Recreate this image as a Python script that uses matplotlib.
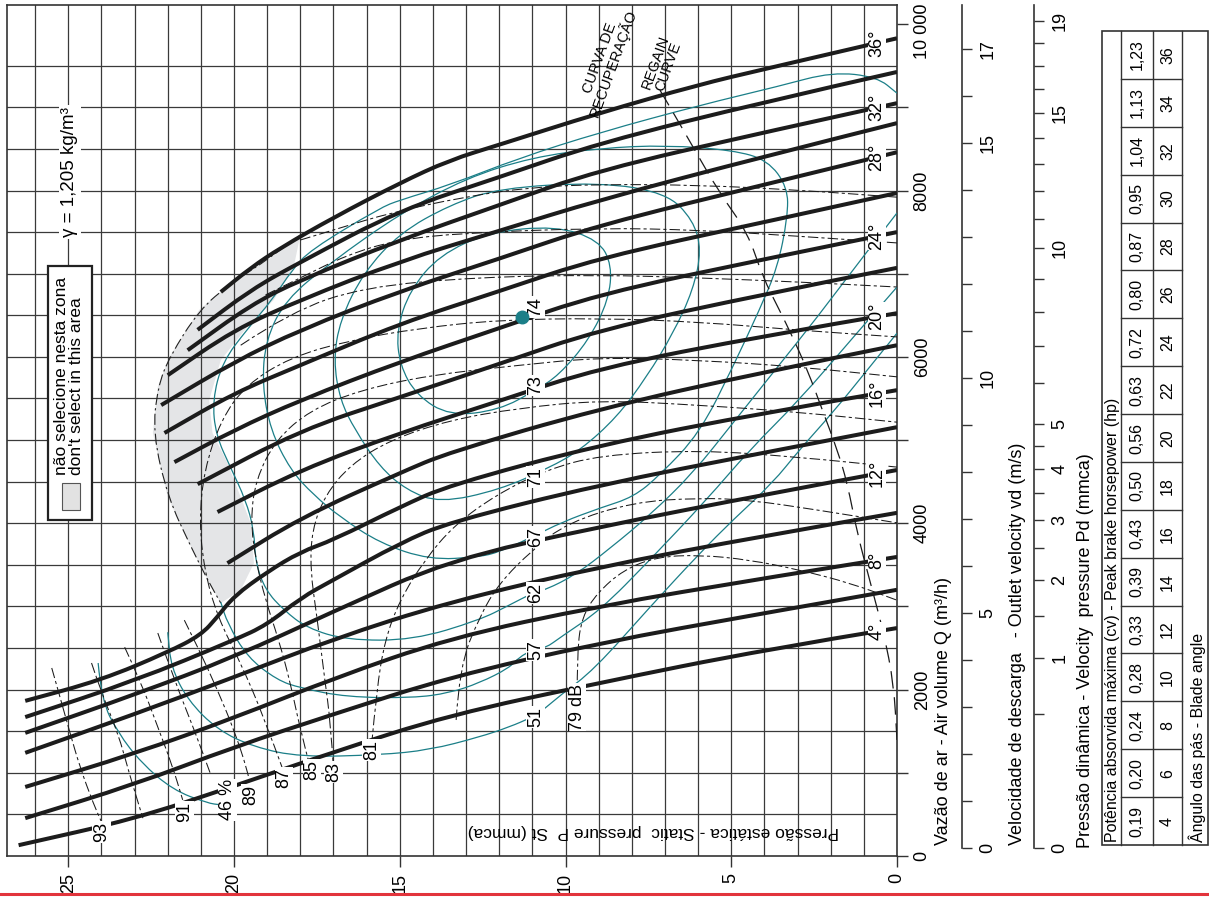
import matplotlib
matplotlib.use("Agg")
import matplotlib.pyplot as plt
from matplotlib.patches import Rectangle, PathPatch
from matplotlib.path import Path
from matplotlib.transforms import ScaledTranslation
import numpy as np

plt.rcParams['font.family'] = ['Liberation Sans', 'DejaVu Sans']

# ---------------- data (static pressure mmca, air volume m3/h) ----------------
blade_angles = [4, 6, 8, 10, 12, 14, 16, 18, 20, 22, 24, 26, 28, 30, 32, 34, 36]
peak_hp = [0.19, 0.20, 0.24, 0.28, 0.33, 0.39, 0.43, 0.50, 0.56,
           0.63, 0.72, 0.80, 0.87, 0.95, 1.04, 1.13, 1.23]
labelled_angles = [4, 8, 12, 16, 20, 24, 28, 32, 36]

p_low = [0, 4, 9, 13.5, 17, 20, 23, 26.3]
p04 = [0, 4, 9, 13.5, 17, 20, 23, 26.5]
q04 = [2740, 2480, 2080, 1695, 1250, 840, 445, 130]
q06 = [3200, 2920, 2560, 2150, 1705, 1310, 860, 455]
q08 = [3595, 3340, 3005, 2620, 2135, 1660, 1230, 830]
q10 = [4125, 3850, 3475, 3055, 2610, 2150, 1705, 1240]
q12 = [4640, 4345, 3955, 3560, 2940, 2390, 1940, 1480]
p14 = [0, 4, 9, 13.5, 15, 17, 18, 19, 20, 23, 26.3]
q14 = [5155, 4850, 4460, 4015, 3760, 3320, 3100, 2780, 2595, 2105, 1670]
p16 = [0, 4, 9, 13.5, 15, 17, 18, 19, 20, 20.5, 21, 22, 24, 26.3]
q16 = [5600, 5330, 4940, 4460, 4195, 3800, 3655, 3415, 3125, 2875, 2655, 2450, 2115, 1865]
p18 = [0, 4, 9, 13.5, 15, 18, 20.2]
q18 = [6140, 5820, 5375, 4855, 4605, 4065, 3520]
p20 = [0, 4, 9, 12, 15, 18, 20.5]
q20 = [6525, 6255, 5865, 5470, 5085, 4640, 4135]
p22 = [0, 4, 9, 12, 15, 18, 21.1]
q22 = [7070, 6755, 6325, 5915, 5515, 5120, 4470]
p24 = [0, 4, 9, 12, 15, 18, 20, 21.8]
q24 = [7500, 7175, 6755, 6345, 5940, 5480, 5120, 4735]
p26 = [0, 4, 9, 12, 15, 18, 20, 22.1]
q26 = [7970, 7620, 7190, 6790, 6400, 5900, 5565, 5085]
p28 = [0, 4, 9, 12, 15, 18, 20, 22.2]
q28 = [8460, 8070, 7585, 7180, 6790, 6325, 5940, 5420]
p30 = [0, 4, 9, 12, 15, 18, 20, 22.0]
q30 = [8810, 8410, 7885, 7515, 7150, 6685, 6325, 5780]
p32 = [0, 4, 9, 12, 15, 18, 19.5, 21.4]
q32 = [9050, 8700, 8245, 7825, 7405, 6925, 6625, 6080]
p34 = [0, 4, 9, 12, 15, 18, 19.5, 21.1]
q34 = [9425, 9065, 8570, 8160, 7765, 7140, 6805, 6325]
p36 = [0, 4, 6, 9, 12, 13.5, 15, 17, 18.6, 19.5, 20.4]
q36 = [9830, 9460, 9270, 8930, 8550, 8365, 8090, 7675, 7310, 7070, 6780]

# efficiency contours (%)
e73_p = [15.1, 14.7, 13.8, 12.3, 10.3, 9.0, 8.6, 8.7, 9.3, 10.2, 10.9, 12.0, 13.5, 14.5, 15.0, 15.1]
e73_q = [6320, 6800, 7225, 7500, 7575, 7405, 7105, 6685, 6200, 5780, 5600, 5360, 5290, 5540, 5900, 6320]
e71_p = [10.5, 12.0, 13.8, 14.8, 15.6, 16.35, 16.8, 17.0, 16.8, 16.1, 15.0, 13.5, 12.0, 8.95,
         6.95, 6.15, 5.9, 6.15, 6.75, 7.55, 8.45, 9.55, 10.5]
e71_q = [4665, 4400, 4245, 4400, 4675, 5120, 5480, 5960, 6445, 7010, 7490, 7825, 8030, 8100,
         7970, 7645, 7285, 6805, 6285, 5760, 5275, 4880, 4665]
e67_p = [11.0, 12.0, 12.6, 14.1, 15.6, 16.8, 17.6, 18.3, 18.9, 19.15, 19.05, 18.45, 17.1, 15.0,
         13.0, 11.0, 8.95, 6.95, 4.95, 3.9, 3.3, 3.3, 3.6, 4.15, 4.95, 5.95, 7.15, 7.95, 8.95, 10.1, 11.0]
e67_q = [3835, 3655, 3595, 3560, 3760, 4075, 4340, 4640, 5120, 5660, 6200, 6685, 7130, 7720,
         8150, 8400, 8510, 8545, 8485, 8365, 8040, 7680, 7080, 6565, 5880, 5085, 4580, 4315, 4185, 4015, 3835]
e62_p = [0, 1.1, 2.4, 3.6, 4.95, 6.15, 7.45, 8.65, 9.7, 10.6, 11.0, 11.7, 12.6, 14.6, 16.6, 17.8,
         18.5, 19.05, 19.35, 19.4, 19.65, 20.1, 20.55, 20.65, 20.35, 19.6, 18.85, 18.25, 17.7,
         15.6, 15.0, 13.5, 11.4, 8.95, 5.95, 3.55, 1.95, 0.6, 0]
e62_q = [7730, 7165, 6480, 5880, 5205, 4605, 4100, 3700, 3380, 3200, 3160, 3015, 2835, 2595, 2595, 2740,
         2955, 3195, 3520, 3920, 4280, 4665, 5060, 5480, 5940, 6335, 6685, 7045, 7285,
         7790, 7885, 8065, 8390, 8700, 9025, 9255, 9425, 9365, 9170]
e57_p = [0, 1.4, 2.95, 4.45, 5.75, 7.45, 8.95, 10.15, 10.6, 11.0, 11.4, 11.7, 12.6, 13.5, 14.6,
         16.6, 18.0, 18.7, 19.6, 20.2, 20.4]
e57_q = [6840, 6200, 5480, 4880, 4280, 3560, 2955, 2630, 2500, 2475, 2390, 2260, 2080, 1960, 1900,
         1910, 2020, 2115, 2390, 2800, 3050]
e51_p = [0, 0.9, 1.95, 2.95, 3.75, 4.95, 5.95, 7.45, 9.15, 10.15, 10.6, 11.0, 11.7, 12.6, 14.1,
         15.6, 18.0, 19.4, 20.5, 21.4, 21.9, 22.0]
e51_q = [6285, 5840, 5325, 4880, 4485, 4040, 3640, 2995, 2235, 1935, 1780, 1670, 1550, 1430, 1275,
         1215, 1190, 1310, 1515, 1875, 2270, 2690]
e46_p = [24.1, 24.0, 23.5, 22.8, 21.85, 20.8, 20.4]
e46_q = [2320, 1875, 1480, 1120, 795, 635, 615]
eff_labels = ['74', '73', '71', '67', '62', '57', '51']
eff_label_q = [6600, 5660, 4555, 3835, 3160, 2475, 1670]
peak_point = (11.3, 6480)

# noise contours (dB)
n79_p = [9.65, 9.65, 9.5, 9.05, 8.25, 7.25, 5.95, 4.45, 2.95, 1.4, 0]
n79_q = [1875, 2475, 2875, 3160, 3440, 3595, 3620, 3560, 3440, 3280, 3075]
n80_p = [13.3, 13.2, 12.6, 12.0, 11.0, 9.95, 7.95, 5.95, 4.45, 2.4, 0]
n80_q = [1635, 2270, 2875, 3280, 3680, 4005, 4255, 4305, 4280, 4160, 4005]
n81_p = [15.85, 15.7, 15.45, 15.0, 14.25, 13.35, 12.1, 10.6, 8.95, 5.95, 2.95, 0]
n81_q = [1335, 1995, 2595, 3075, 3560, 3980, 4340, 4640, 4820, 4880, 4795, 4675]
n83_p = [17.0, 17.1, 17.25, 17.5, 17.7, 17.65, 17.25, 16.5, 15.3, 13.5, 11.4, 8.95, 5.95, 2.95, 0]
n83_q = [1060, 1635, 2080, 2875, 3440, 3920, 4340, 4700, 5000, 5240, 5385, 5480, 5420, 5335, 5215]
n85_p = [17.7, 18.0, 18.3, 18.65, 19.05, 19.35, 19.5, 19.35, 18.75, 17.7, 16.2, 14.1, 11.4, 8.95, 5.95, 2.95, 0]
n85_q = [1060, 1515, 2080, 2595, 3075, 3560, 4040, 4520, 5000, 5360, 5600, 5780, 5900, 5995, 5960, 5880, 5760]
n87_p = [18.5, 19.1, 19.8, 20.5, 20.9, 21.05, 20.9, 20.4, 19.65, 18.3, 16.5, 14.4, 12.0, 8.95, 5.95, 2.95, 0]
n87_q = [1010, 1670, 2320, 2875, 3440, 4040, 4640, 5240, 5660, 5995, 6200, 6345, 6445, 6465, 6420, 6320, 6240]
n89a_p = [21.5, 21.05, 20.5, 20.0, 19.6, 19.5]
n89a_q = [2835, 2475, 1995, 1515, 1035, 815]
n89b_p = [19.8, 18.3, 16.1, 12.6, 8.95, 5.95, 2.95, 0]
n89b_q = [6140, 6540, 6840, 6960, 6985, 6950, 6900, 6840]
n90_p = [22.3, 21.8, 21.2, 20.7]
n90_q = [2680, 2115, 1515, 975]
n91a_p = [23.3, 22.8, 22.3, 21.85, 21.55]
n91a_q = [2510, 2080, 1550, 1070, 675]
n91b_p = [19.05, 18.0, 16.6, 15.1, 13.1, 8.95, 5.95, 2.95, 0]
n91b_q = [6745, 6950, 7225, 7405, 7490, 7550, 7525, 7450, 7370]
n92_p = [24.3, 24.0, 23.5, 23.15, 22.75]
n92_q = [2320, 1960, 1480, 975, 455]
n93a_p = [25.5, 25.25, 24.95, 24.65, 24.25, 24.0]
n93a_q = [2260, 1910, 1480, 1070, 635, 410]
n93b_p = [18.0, 16.8, 15.3, 13.1, 11.05, 8.95, 5.95, 2.95, 0]
n93b_q = [7405, 7550, 7730, 7920, 8040, 8075, 8065, 8005, 7920]
noise_labels = ['79 dB', '81', '83', '85', '87', '89', '91', '93', '46 %']
noise_label_p = [9.65, 15.85, 17.0, 17.65, 18.5, 19.5, 21.5, 24.0, 20.2]
noise_label_q = [1790, 1275, 1010, 1035, 940, 735, 530, 290, 675]

# regain curve
regain_p = [7.15, 6.85, 6.15, 5.35, 4.5, 4.05, 3.55, 3.15, 2.7, 2.25, 1.8, 1.5, 1.2, 0.8, 0.4, 0.1, 0]
regain_q = [9205, 9005, 8520, 7970, 7490, 6960, 6565, 6240, 5840, 5360, 4880, 4485, 3880, 3280, 2680, 2080, 1395]

# "do not select" zone (outer edge = stall line, then inner edge)
stall_p = [18.0, 18.9, 20.1, 21.05, 21.95, 22.3, 22.45, 22.0, 21.3, 20.8, 20.4]
stall_q = [7465, 7190, 6885, 6565, 6000, 5640, 5085, 4315, 3715, 3320, 3040]
zone_inner_p = [19.8, 19.4, 19.5, 19.8, 20.2, 20.65, 20.75, 20.4, 19.6, 18.8, 18.2]
zone_inner_q = [3195, 3520, 4005, 4315, 4725, 5085, 5480, 5960, 6360, 6685, 7080]

rho = 1.205
vel_ticks = list(range(0, 18))
vel_labelled = [0, 5, 10, 15, 17]
pd_ticks = [0, 0.5, 1, 1.5, 2, 2.5, 3, 3.5, 4, 4.5, 5] + list(range(6, 20))
pd_labelled = [0, 1, 2, 3, 4, 5, 10, 15, 19]

# ---------------- figure ----------------
W, H = 1209, 898
fig = plt.figure(figsize=(W / 100, H / 100), dpi=100)
TEAL = '#1b7f88'
GRID = '#3a3a3a'


def fx(px):
    return px / W


def fy(py):
    return 1 - py / H


def smooth(axis, p, q, closed=False, **kw):
    """draw a smooth (quadratic bezier) line through the read points"""
    pts = np.column_stack([p, q]).astype(float)
    if closed:
        pts = pts[:-1]
        mids = (pts + np.roll(pts, -1, axis=0)) / 2
        verts, codes = [mids[-1]], [Path.MOVETO]
        for i in range(len(pts)):
            verts += [pts[i], mids[i]]
            codes += [Path.CURVE3, Path.CURVE3]
    else:
        verts, codes = [pts[0]], [Path.MOVETO]
        for i in range(1, len(pts) - 1):
            verts += [pts[i], (pts[i] + pts[i + 1]) / 2]
            codes += [Path.CURVE3, Path.CURVE3]
        verts.append(pts[-1])
        codes.append(Path.LINETO)
    axis.add_patch(PathPatch(Path(verts, codes), fill=False, **kw))


ax = fig.add_axes([fx(7), fy(856), fx(897) - fx(7), fy(5) - fy(856)])
ax.set_xlim(26.85, 0)
ax.set_ylim(0, 10230)
for s in ax.spines.values():
    s.set_linewidth(1.2)
    s.set_color('#333333')

# grid
for p in range(1, 27):
    ax.axvline(p, color=GRID, lw=0.9, zorder=1)
for q in range(500, 10000, 500):
    ax.axhline(q, color=GRID, lw=0.9, zorder=1)

# stall zone
ax.fill(stall_p + zone_inner_p, stall_q + zone_inner_q, color='#e4e5e7', lw=0, zorder=0.5)
smooth(ax, stall_p, stall_q, ec='#222222', lw=0.8, ls=(0, (10, 3, 2, 3)), zorder=3)

# efficiency contours
for ep, eq, cl in [(e73_p, e73_q, True), (e71_p, e71_q, True), (e67_p, e67_q, True),
                   (e62_p, e62_q, False), (e57_p, e57_q, False), (e51_p, e51_q, False),
                   (e46_p, e46_q, False)]:
    smooth(ax, ep, eq, closed=cl, ec=TEAL, lw=0.9, zorder=3)

# noise contours
for npp, nq in [(n79_p, n79_q), (n80_p, n80_q), (n81_p, n81_q), (n83_p, n83_q), (n85_p, n85_q),
                (n87_p, n87_q), (n89a_p, n89a_q), (n89b_p, n89b_q), (n90_p, n90_q),
                (n91a_p, n91a_q), (n91b_p, n91b_q), (n92_p, n92_q), (n93a_p, n93a_q), (n93b_p, n93b_q)]:
    smooth(ax, npp, nq, ec='#1a1a1a', lw=0.75, ls=(0, (10, 3, 3, 3)), zorder=3)

# regain curve
smooth(ax, regain_p, regain_q, ec='#1a1a1a', lw=0.9, ls=(0, (14, 7)), zorder=3)
ax.text(8.75, 9560, 'CURVA DE\nRECUPERAÇÃO', rotation=70, ha='center', va='center',
        fontsize=10.5, linespacing=0.9, zorder=5)
ax.text(7.1, 9520, 'REGAIN\nCURVE', rotation=70, ha='center', va='center',
        fontsize=10.5, linespacing=0.9, zorder=5)

# blade angle curves
curves = [(p04, q04), (p_low, q06), (p_low, q08), (p_low, q10), (p_low, q12), (p14, q14),
          (p16, q16), (p18, q18), (p20, q20), (p22, q22), (p24, q24), (p26, q26),
          (p28, q28), (p30, q30), (p32, q32), (p34, q34), (p36, q36)]
for ang, (cp, cq) in zip(blade_angles, curves):
    smooth(ax, cp, cq, ec='#1c1c1c', lw=2.9, capstyle='butt', zorder=4)
    if ang in labelled_angles:
        ax.text(0.6, np.interp(0.6, cp, cq), f'{ang}°', rotation=90, ha='center', va='center',
                fontsize=13, zorder=5, bbox=dict(fc='white', ec='none', pad=0.3))

# labels on contours
box = dict(fc='white', ec='none', pad=0.5)
for s, q in zip(eff_labels, eff_label_q):
    ax.text(10.9, q, s, rotation=90, ha='center', va='center', fontsize=13, zorder=5, bbox=box)
ax.plot(*peak_point, 'o', color=TEAL, ms=9, zorder=6)
for s, p, q in zip(noise_labels, noise_label_p, noise_label_q):
    ax.text(p, q, s, rotation=90, ha='center', va='center', fontsize=13, zorder=5, bbox=box)

# density note and legend
ax.text(24.95, 8220, 'γ = 1,205 kg/m³', rotation=90, ha='center', va='center', fontsize=13.5,
        zorder=6, bbox=dict(fc='white', ec='none', pad=1.5))
ax.add_patch(Rectangle((24.3, 4040), 1.3, 3050, fc='white', ec='#222222', lw=1.6, zorder=6))
ax.add_patch(Rectangle((24.65, 4160), 0.55, 325, fc='#e2e2e2', ec='#555555', lw=0.8, zorder=7))
ax.text(25.2, 4580, 'não selecione nesta zona', rotation=90, ha='center', va='bottom',
        fontsize=12.5, zorder=7)
ax.text(24.75, 4580, "don't select in this area", rotation=90, ha='center', va='bottom',
        fontsize=12.5, zorder=7)

ax.text(7.35, 290, 'Pressão estática - Static  pressure P  St (mmca)', rotation=180,
        ha='center', va='center', fontsize=12.5, zorder=5)

# axes ticks: static pressure (bottom) and air volume (right)
ax.set_xticks([0, 5, 10, 15, 20, 25])
ax.set_xticklabels(['0', '5', '10', '15', '20', '25'])
ax.yaxis.tick_right()
ax.set_yticks(range(0, 10001, 1000))
ax.set_yticklabels(['0', '', '2000', '', '4000', '', '6000', '', '8000', '', '10 000'])
ax.tick_params(axis='both', direction='out', length=8, width=1.0, color='#333333',
               labelsize=13, labelrotation=90, pad=4)
for t in ax.get_yticklabels():
    t.set_va('center')
top_lbl = ax.get_yticklabels()[-1]
top_lbl.set_transform(top_lbl.get_transform() + ScaledTranslation(0, -5 / 72, fig.dpi_scale_trans))

# velocity scale
axv = fig.add_axes([fx(962), fy(848), 0.0001, fy(5) - fy(848)])
axv.set_ylim(0, (848 - 5) / 47)
axv.patch.set_visible(False)
for k in ('top', 'bottom', 'left'):
    axv.spines[k].set_visible(False)
axv.spines['right'].set_linewidth(1.2)
axv.spines['right'].set_color('#333333')
axv.set_xticks([])
axv.yaxis.tick_right()
axv.set_yticks(vel_ticks)
axv.set_yticklabels([str(v) if v in vel_labelled else '' for v in vel_ticks])
axv.tick_params(axis='y', direction='out', length=7.5, width=1.0, color='#333333',
                labelsize=13, labelrotation=90, pad=5)
for t in axv.get_yticklabels():
    t.set_va('center')

# velocity pressure scale (Pd = rho v^2 / 2g)
axp = fig.add_axes([fx(1034), fy(848), 0.0001, fy(5) - fy(848)])
axp.set_ylim(0, (848 - 5) / 47)
axp.patch.set_visible(False)
for k in ('top', 'bottom', 'left'):
    axp.spines[k].set_visible(False)
axp.spines['right'].set_linewidth(1.2)
axp.spines['right'].set_color('#333333')
axp.set_xticks([])
axp.yaxis.tick_right()
axp.set_yticks([np.sqrt(2 * 9.81 * d / rho) for d in pd_ticks])
axp.set_yticklabels([f'{d:g}' if d in pd_labelled else '' for d in pd_ticks])
axp.tick_params(axis='y', direction='out', length=7.5, width=1.0, color='#333333',
                labelsize=13, labelrotation=90, pad=5)
for t in axp.get_yticklabels():
    t.set_va('center')

fig.text(fx(943), fy(845), 'Vazão de ar - Air volume Q (m³/h)', rotation=90,
         ha='center', va='bottom', fontsize=13)
fig.text(fx(1017), fy(845), 'Velocidade de descarga   - Outlet velocity vd (m/s)', rotation=90,
         ha='center', va='bottom', fontsize=13)
fig.text(fx(1086), fy(848), 'Pressão dinâmica - Velocity  pressure Pd (mmca)', rotation=90,
         ha='center', va='bottom', fontsize=13)

# table of blade angle / peak power
ov = fig.add_axes([0, 0, 1, 1], facecolor='none')
ov.set_xlim(0, W)
ov.set_ylim(H, 0)
ov.axis('off')
tx = [1102, 1121, 1153, 1182, 1208]
ty_top, ty_bot = 31, 845
ov.add_patch(Rectangle((tx[0], ty_top), tx[4] - tx[0], ty_bot - ty_top, fill=False,
                       ec='#333333', lw=1.2))
for x in tx[1:4]:
    ov.plot([x, x], [ty_top, ty_bot], color='#333333', lw=1.0)
n = len(blade_angles)
ch = (ty_bot - ty_top) / n
for i in range(1, n):
    y = ty_bot - i * ch
    ov.plot([tx[1], tx[3]], [y, y], color='#333333', lw=1.0)
for i, (ang, hp) in enumerate(zip(blade_angles, peak_hp)):
    yc = ty_bot - (i + 0.5) * ch
    ov.text((tx[1] + tx[2]) / 2, yc, f'{hp:.2f}'.replace('.', ','), rotation=90,
            ha='center', va='center', fontsize=11.5)
    ov.text((tx[2] + tx[3]) / 2, yc, str(ang), rotation=90, ha='center', va='center', fontsize=11.5)
ov.text((tx[0] + tx[1]) / 2 + 1, ty_bot - 3,
        'Potência absorvida máxima (cv) - Peak brake horsepower (hp)',
        rotation=90, ha='center', va='bottom', fontsize=11.5)
ov.text((tx[3] + tx[4]) / 2 + 2, ty_bot - 3, 'Ângulo das pás - Blade angle', rotation=90,
        ha='center', va='bottom', fontsize=11.5)

ov.plot([0, W], [894, 894], color='#e2343c', lw=2.2)

fig.savefig('out.png', dpi=100)
